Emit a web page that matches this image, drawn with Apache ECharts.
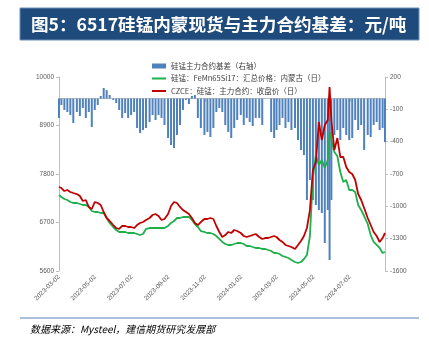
<!DOCTYPE html>
<html>
<head>
<meta charset="utf-8">
<script src="https://cdn.jsdelivr.net/npm/echarts@6/dist/echarts.min.js"></script>
<style>html,body{margin:0;padding:0;background:#fff;}#c{width:429px;height:350px;}</style>
</head>
<body>
<div id="c"></div>
<script>
const dates = [
'2023-03-02','2023-03-06','2023-03-11','2023-03-16','2023-03-21','2023-03-26',
'2023-04-01','2023-04-06','2023-04-11','2023-04-16','2023-04-21','2023-04-26',
'2023-05-01','2023-05-06','2023-05-11','2023-05-16','2023-05-21','2023-05-26',
'2023-06-01','2023-06-06','2023-06-11','2023-06-16','2023-06-21','2023-06-26',
'2023-07-01','2023-07-06','2023-07-11','2023-07-16','2023-07-21','2023-07-26',
'2023-08-01','2023-08-06','2023-08-11','2023-08-16','2023-08-21','2023-08-26',
'2023-09-01','2023-09-06','2023-09-11','2023-09-16','2023-09-21','2023-09-26',
'2023-10-01','2023-10-06','2023-10-11','2023-10-16','2023-10-21','2023-10-26',
'2023-11-01','2023-11-06','2023-11-11','2023-11-16','2023-11-21','2023-11-26',
'2023-12-01','2023-12-06','2023-12-11','2023-12-16','2023-12-21','2023-12-26',
'2024-01-01','2024-01-06','2024-01-11','2024-01-16','2024-01-21','2024-01-26',
'2024-02-01','2024-02-06','2024-02-11','2024-02-16','2024-02-21','2024-02-26',
'2024-03-01','2024-03-06','2024-03-11','2024-03-16','2024-03-21','2024-03-26',
'2024-04-01','2024-04-06','2024-04-11','2024-04-16','2024-04-21','2024-04-26',
'2024-05-01','2024-05-06','2024-05-11','2024-05-16','2024-05-21','2024-05-26','2024-05-29',
'2024-06-01','2024-06-06','2024-06-11','2024-06-16','2024-06-21','2024-06-26',
'2024-07-01','2024-07-06','2024-07-11','2024-07-16','2024-07-21','2024-07-26',
'2024-08-01','2024-08-06','2024-08-11','2024-08-16','2024-08-21','2024-08-26','2024-08-30'
];
// 硅锰主力合约基差（右轴）
const basis = [
-180,-60,-106,-125,-153,-227,
-125,-162,-88,-180,-125,-264,
-106,-60,24,98,79,33,
-13,-41,-106,-180,-134,-180,
-153,-125,-273,-320,-292,-273,
-218,-153,-199,-153,-180,-245,
-366,-431,-459,-338,-245,-106,
-13,-51,24,33,-180,-273,
-338,-310,-357,-273,-125,-88,
-125,-245,-310,-366,-273,-199,
-153,-245,-180,-218,-255,-180,
-180,-245,null,null,-310,-366,
-292,-245,-180,-273,-218,-292,
-273,-385,-477,-524,-941,-756,
-941,-988,-1034,-1062,-1340,-1034,-1498,
-941,-338,-292,-385,-273,-338,
-385,-366,-199,-292,-245,-477,
-338,-357,-245,-218,-292,-273,-403
];
// 硅锰：FeMn65Si17：汇总价格：内蒙古（日）
const spot = [
7324,7278,7233,7210,7165,7142,
7142,7120,7097,7097,7052,6961,
6938,6938,6915,6915,6802,6689,
6598,6530,6485,6485,6485,6462,
6462,6462,6439,6416,6439,6553,
6575,6575,6575,6575,6575,6575,
6621,6689,6734,6802,6802,6825,
6825,6825,6757,6666,6598,6507,
6485,6462,6462,6439,6394,6326,
6258,6212,6190,6190,6212,6235,
6235,6212,6167,6167,6144,6122,
6122,6099,6099,6076,6054,6008,
6008,5986,5940,5918,5895,5849,
5804,5781,5804,5872,5963,6394,
7709,8231,8004,8117,7936,8117,8753,
8571,8299,8208,7845,7619,7664,
7437,7437,7392,7097,6983,6847,
6666,6416,6258,6190,6122,6008,6031
];
// CZCE：硅锰：主力合约：收盘价（日）
const futures = [
7505,7482,7414,7437,7392,7369,
7346,7301,7188,7210,7052,7006,
7165,7142,7097,6938,6802,6734,
6643,6575,6553,6621,6621,6598,
6598,6575,6643,6689,6711,6757,
6802,6870,6893,6847,6757,6779,
6893,7074,7165,7142,7052,6983,
6938,6893,6802,6689,6643,6711,
6779,6779,6802,6779,6621,6485,
6371,6416,6485,6462,6530,6507,
6462,6394,6371,6394,6416,6439,
6371,6326,6348,6348,6371,6394,
6371,6303,6258,6190,6167,6144,
6099,6190,6280,6394,6575,6983,
7891,8072,8979,8571,8911,9025,9773,
9025,8344,8616,8186,8186,7959,
7845,7800,7664,7346,7210,7029,
6802,6643,6485,6394,6258,6348,6462
];
const xTickLabels = ['2023-03-02','2023-05-02','2023-07-02','2023-09-02','2023-11-02','2024-01-02','2024-03-02','2024-05-02','2024-07-02'];
const leftTicks = [5600,6700,7800,8900,10000];
const rightTicks = [-1600,-1300,-1000,-700,-400,-100,200];
const seriesNames = ['硅锰主力合约基差（右轴）','硅锰：FeMn65Si17：汇总价格：内蒙古（日）','CZCE：硅锰：主力合约：收盘价（日）'];

function parseD(s){const p=s.split('-');return Date.UTC(+p[0],+p[1]-1,+p[2]);}
function pad(n){return n<10?'0'+n:''+n;}
function fmtD(v){const d=new Date(v);return d.getUTCFullYear()+'-'+pad(d.getUTCMonth()+1)+'-'+pad(d.getUTCDate());}
const xs = dates.map(parseD);
const xTickVals = xTickLabels.map(parseD);

const chart = echarts.init(document.getElementById('c'), null, {renderer:'canvas'});
const axisGrey = '#bfbfbf';
const labelColor = '#595959';
const labelFont = 'Liberation Sans';
const lineIcon = 'path://M0 0H14V2H0Z';
chart.setOption({
  animation:false,
  backgroundColor:'#ffffff',
  graphic:[
    {type:'rect', shape:{x:20,y:8,width:399,height:32}, style:{fill:'#1f4a7c', stroke:'#6f8fb8', lineWidth:1}, z:0},
    {type:'text', x:31, y:24, style:{text:'图5：6517硅锰内蒙现货与主力合约基差：元/吨', fill:'#ffffff', font:'bold 17.6px "Noto Sans CJK SC"', verticalAlign:'middle', textAlign:'left'}, z:1},
    {type:'line', shape:{x1:20,y1:318,x2:419,y2:318}, style:{stroke:'#8eaacc', lineWidth:1.5}},
    {type:'text', x:30, y:329, style:{text:'数据来源：Mysteel，建信期货研究发展部', fill:'#000000', font:'italic 10px "Noto Sans CJK SC"', verticalAlign:'middle', textAlign:'left'}}
  ],
  legend:{
    orient:'vertical', left:147, top:57,
    itemWidth:14, itemHeight:5, itemGap:4.5,
    data:[{name:seriesNames[0], icon:'rect'}, {name:seriesNames[1], icon:lineIcon}, {name:seriesNames[2], icon:lineIcon}],
    textStyle:{fontSize:7.5, color:'#404040', fontFamily:'"Noto Sans CJK SC"', lineHeight:8}
  },
  grid:{left:59, right:44, top:77, bottom:79, outerBoundsMode:'none'},
  xAxis:{
    type:'value', min:xs[0], max:parseD('2024-08-30'),
    axisLine:{lineStyle:{color:axisGrey}},
    axisTick:{show:true, customValues:xTickVals, length:3, lineStyle:{color:axisGrey}},
    axisLabel:{customValues:xTickVals, formatter:function(v){return fmtD(v);}, rotate:45, fontSize:6.5, color:labelColor, fontFamily:labelFont, margin:5},
    splitLine:{show:false}
  },
  yAxis:[
    {type:'value', min:5600, max:10000, position:'left',
     axisLine:{show:true, lineStyle:{color:axisGrey}},
     axisTick:{show:true, customValues:leftTicks, length:3, lineStyle:{color:axisGrey}},
     axisLabel:{customValues:leftTicks, formatter:function(v){return String(v);}, fontSize:6.5, color:labelColor, fontFamily:labelFont, margin:5},
     splitLine:{show:false}},
    {type:'value', min:-1600, max:200, position:'right',
     axisLine:{show:true, lineStyle:{color:axisGrey}},
     axisTick:{show:true, customValues:rightTicks, length:3, lineStyle:{color:axisGrey}},
     axisLabel:{customValues:rightTicks, formatter:function(v){return String(v);}, fontSize:6.5, color:labelColor, fontFamily:labelFont, margin:5},
     splitLine:{show:false}}
  ],
  series:[
    {name:seriesNames[0], type:'bar', yAxisIndex:1, barWidth:2,
     itemStyle:{color:'#4f81bd'}, data:xs.map((x,i)=>[x,basis[i]])},
    {name:seriesNames[1], type:'line', yAxisIndex:0, symbol:'none', showSymbol:false,
     lineStyle:{color:'#1fb04b', width:1.8}, itemStyle:{color:'#1fb04b'}, data:xs.map((x,i)=>[x,spot[i]])},
    {name:seriesNames[2], type:'line', yAxisIndex:0, symbol:'none', showSymbol:false,
     lineStyle:{color:'#c00000', width:1.8}, itemStyle:{color:'#c00000'}, data:xs.map((x,i)=>[x,futures[i]])}
  ]
});
</script>
</body>
</html>
